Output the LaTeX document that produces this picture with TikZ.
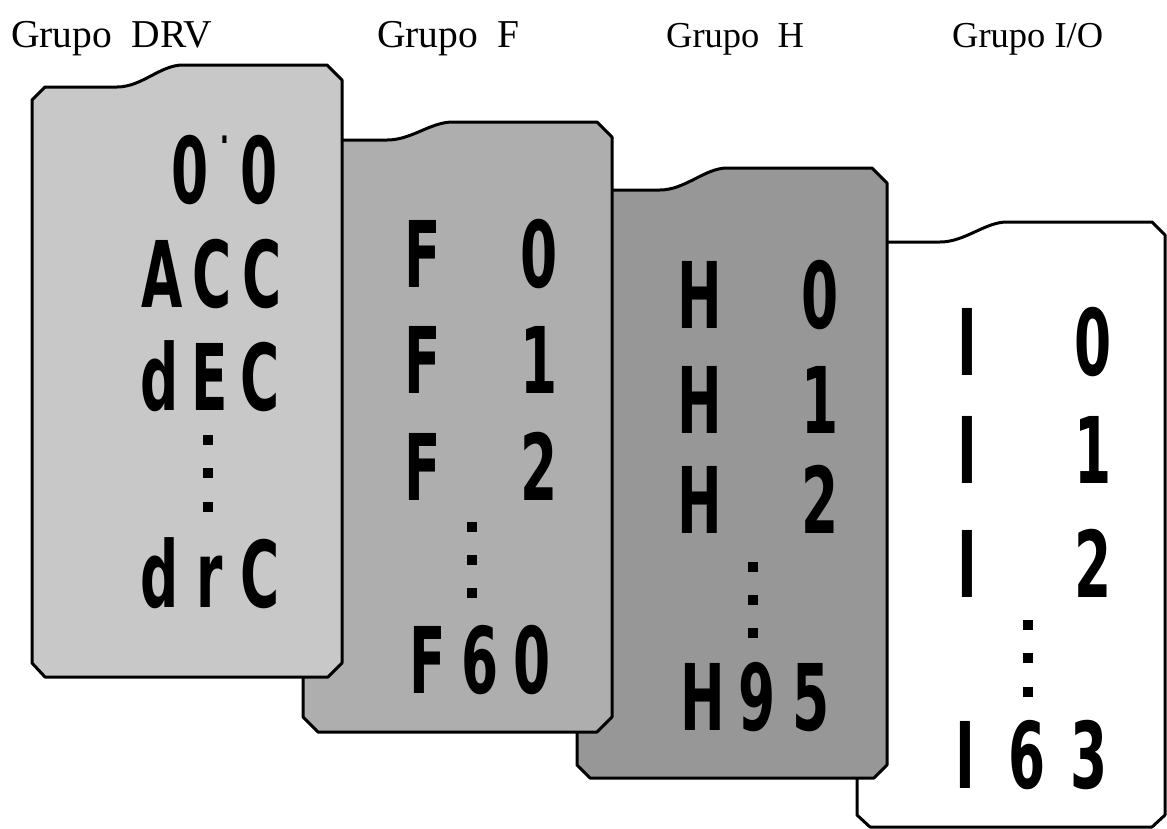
\documentclass[tikz,border=0pt]{standalone}
\usepackage{fontspec}
\setmainfont{Liberation Serif}
\newfontfamily\segfont[FakeStretch=0.58]{DejaVu Sans}
\newlength\segp
\newcommand\cl[1]{\makebox[\segp]{#1}}
\definecolor{cardA}{HTML}{C8C8C8}
\definecolor{cardB}{HTML}{AEAEAE}
\definecolor{cardC}{HTML}{979797}
\tikzset{
  card/.style={draw=black, line width=3pt, line join=round},
  grp/.style={anchor=base west, inner sep=0pt},
  lcd/.style={anchor=base, inner sep=0pt, font=\segfont\bfseries\fontsize{92pt}{92pt}\selectfont},
  dotsq/.style={fill=black},
}
\begin{document}
\begin{tikzpicture}[x=1pt, y=-1pt]
\useasboundingbox (0,0) rectangle (1167,828);
\fill[white] (0,0) rectangle (1167,828);
% labels
\node[grp, font=\fontsize{39.5pt}{39.5pt}\selectfont] (l1) at (11,47) {Grupo\ \ DRV};
\node[grp, font=\fontsize{39.5pt}{39.5pt}\selectfont] (l2) at (377,47) {Grupo\ \ F};
\node[grp, font=\fontsize{36.5pt}{36.5pt}\selectfont] (l3) at (666,47) {Grupo\ \ H};
\node[grp, font=\fontsize{36.5pt}{36.5pt}\selectfont] (l4) at (952,47) {Grupo I/O};
% card 4 (back)
\draw[card, fill=white] (857,257) -- (870,242) -- (940,242) .. controls (965,242) and (985,222) .. (1007,222) -- (1152,222) -- (1165,235) -- (1165,815) -- (1152,827) -- (870,827) -- (857,815) -- cycle;
% card 3
\draw[card, fill=cardC] (577,205) -- (590,190) -- (660,190) .. controls (685,190) and (705,168) .. (727,168) -- (872,168) -- (887,183) -- (887,765) -- (874,778) -- (590,778) -- (577,765) -- cycle;
% card 2
\draw[card, fill=cardB] (303,155) -- (316,140) -- (387,140) .. controls (412,140) and (430,122) .. (453,122) -- (597,122) -- (612,137) -- (612,717) -- (597,732) -- (318,732) -- (303,717) -- cycle;
% card 1 (front)
\draw[card, fill=cardA] (32,100) -- (45,87) -- (117,87) .. controls (142,87) and (160,65) .. (183,65) -- (327,65) -- (342,80) -- (342,663) -- (328,677) -- (45,677) -- (32,663) -- cycle;
% card 1 texts
\node[lcd] (d0) at (225,203) {\makebox[45pt]{0}\makebox[24pt]{\raisebox{60pt}{\fontsize{40pt}{40pt}\selectfont .}}\makebox[45pt]{0}};
\node[lcd] (d1) at (212,307) {\segp=50pt\cl{A}\cl{C}\cl{C}};
\node[lcd] (d2) at (210,410) {\segp=50pt\cl{d}\cl{E}\cl{C}};
\node[lcd] (d3) at (210,607) {\segp=50pt\cl{d}\cl{r}\cl{C}};
\fill[dotsq] (203,435) rectangle (213,445);
\fill[dotsq] (203,468) rectangle (213,478);
\fill[dotsq] (203,502) rectangle (213,512);
% card 2 texts
\node[lcd] (f0) at (481,287) {\segp=58pt\cl{F}\cl{}\cl{0}};
\node[lcd] (f1) at (481,393) {\segp=58pt\cl{F}\cl{}\cl{1}};
\node[lcd] (f2) at (481,500) {\segp=58pt\cl{F}\cl{}\cl{2}};
\fill[dotsq] (467,522) rectangle (477,532);
\fill[dotsq] (467,555) rectangle (477,565);
\fill[dotsq] (467,588) rectangle (477,598);
\node[lcd] (f3) at (480,693) {\segp=52pt\cl{F}\cl{6}\cl{0}};
% card 3 texts
\node[lcd] (h0) at (760,328) {\segp=60pt\cl{H}\cl{}\cl{0}};
\node[lcd] (h1) at (760,433) {\segp=60pt\cl{H}\cl{}\cl{1}};
\node[lcd] (h2) at (760,533) {\segp=60pt\cl{H}\cl{}\cl{2}};
\fill[dotsq] (748,562) rectangle (758,572);
\fill[dotsq] (748,595) rectangle (758,605);
\fill[dotsq] (748,628) rectangle (758,638);
\node[lcd] (h3) at (757,730) {\segp=54pt\cl{H}\cl{9}\cl{5}};
% card 4 texts
\node[lcd] (i0) at (1030,375) {\segp=63pt\cl{I}\cl{}\cl{0}};
\node[lcd] (i1) at (1030,483) {\segp=63pt\cl{I}\cl{}\cl{1}};
\node[lcd] (i2) at (1030,597) {\segp=63pt\cl{I}\cl{}\cl{2}};
\fill[dotsq] (1023,620) rectangle (1033,630);
\fill[dotsq] (1023,653) rectangle (1033,663);
\fill[dotsq] (1023,687) rectangle (1033,697);
\node[lcd] (i3) at (1027,788) {\segp=62pt\cl{I}\cl{6}\cl{3}};
\end{tikzpicture}
\end{document}
